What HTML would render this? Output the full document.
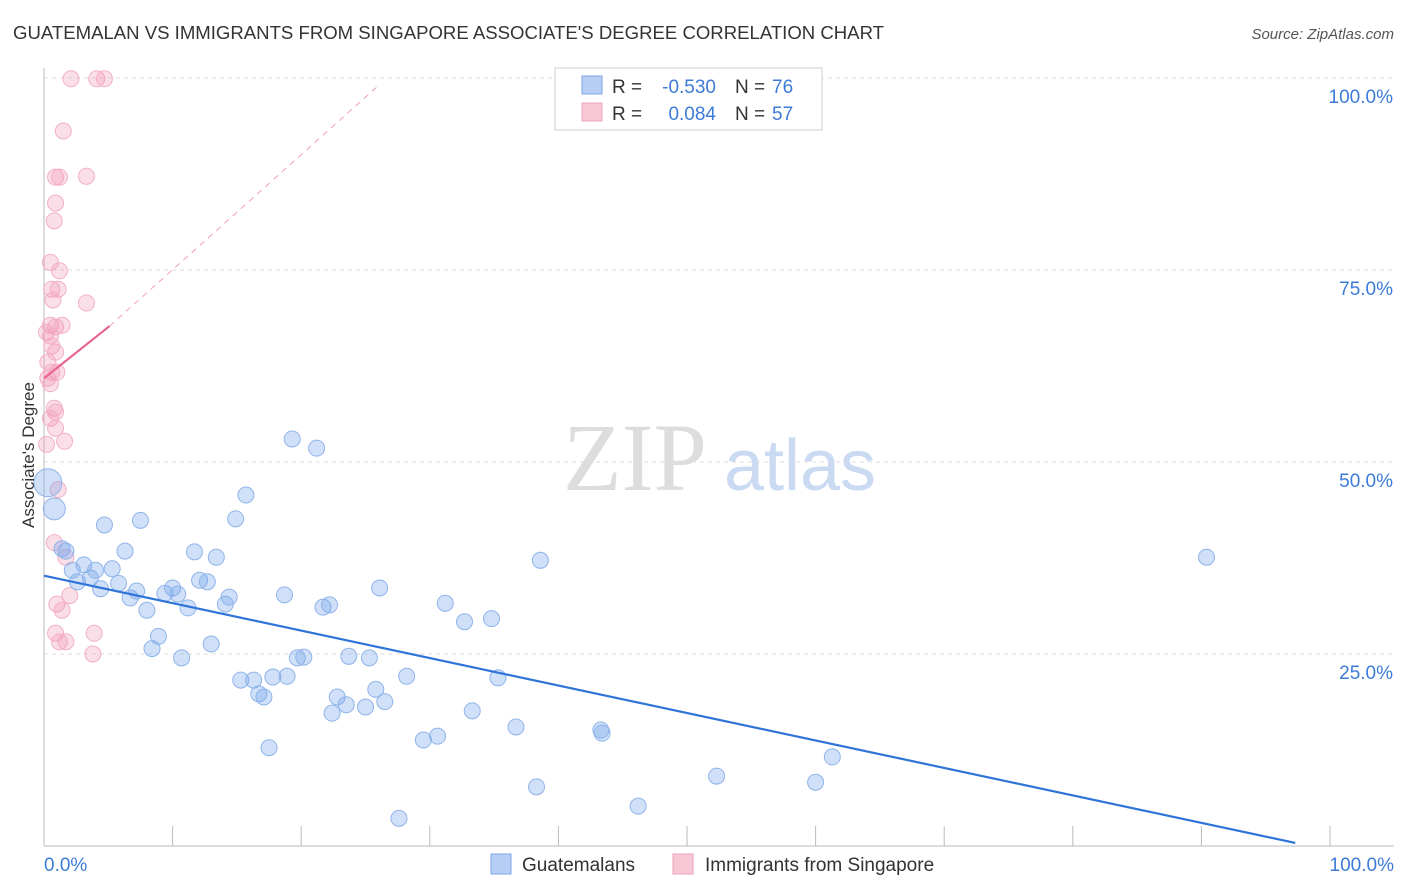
<!DOCTYPE html>
<html><head><meta charset="utf-8"><style>
body{margin:0;background:#fff;font-family:"Liberation Sans",sans-serif;}
svg{display:block}
</style></head><body>
<svg id="chart" width="1406" height="892">
<text x="13" y="39" font-size="18" fill="#333" textLength="871" lengthAdjust="spacingAndGlyphs">GUATEMALAN VS IMMIGRANTS FROM SINGAPORE ASSOCIATE'S DEGREE CORRELATION CHART</text>
<text x="1394" y="39" font-size="15" fill="#555" text-anchor="end" font-style="italic">Source: ZipAtlas.com</text>
<g>
<text x="635" y="490" font-size="96" fill="#ddd" font-family="Liberation Serif,serif" text-anchor="middle">ZIP</text>
<text x="800" y="490" font-size="72" fill="#c9daf2" text-anchor="middle">atlas</text>
</g>
<g id="grid"></g>
<g id="axes"></g>
<g id="marks"></g>
<text transform="translate(34,455) rotate(-90)" font-size="17" fill="#333" text-anchor="middle">Associate's Degree</text>
<g>
<rect x="555" y="68" width="267" height="62" fill="#fff" stroke="#ccc"/>
<rect x="582" y="76" width="20" height="18" fill="#b7cff4" stroke="#7aa6e6"/>
<rect x="582" y="103" width="20" height="18" fill="#f8c7d6" stroke="#f0a0b8"/>
<text x="612" y="93" font-size="19" fill="#333">R =</text>
<text x="716" y="93" font-size="19" fill="#3d7bd8" text-anchor="end">-0.530</text>
<text x="735" y="93" font-size="19" fill="#333">N =</text>
<text x="772" y="93" font-size="19" fill="#3d7bd8">76</text>
<text x="612" y="120" font-size="19" fill="#333">R =</text>
<text x="716" y="120" font-size="19" fill="#3d7bd8" text-anchor="end">0.084</text>
<text x="735" y="120" font-size="19" fill="#333">N =</text>
<text x="772" y="120" font-size="19" fill="#3d7bd8">57</text>
</g>
<g>
<rect x="491" y="854" width="20" height="20" fill="#b7cff4" stroke="#7aa6e6"/>
<text x="522" y="871" font-size="19" fill="#333">Guatemalans</text>
<rect x="673" y="854" width="20" height="20" fill="#f8c7d6" stroke="#f0a0b8"/>
<text x="705" y="871" font-size="19" fill="#333">Immigrants from Singapore</text>
</g>
</svg>
<script>
const blueX=[0.3,0.8,1.4,1.7,2.2,2.6,3.1,3.6,4.0,4.4,4.7,5.3,5.8,6.3,6.7,7.2,7.5,8.0,8.4,8.9,9.4,10.0,10.4,10.7,11.2,11.7,12.1,12.7,13.0,13.4,14.1,14.4,14.9,15.3,15.7,16.3,16.7,17.1,17.5,17.8,18.7,18.9,19.3,19.7,20.2,21.2,21.7,22.2,22.4,22.8,23.5,23.7,25.0,25.3,25.8,26.1,26.5,27.6,28.2,29.5,30.6,31.2,32.7,33.3,34.8,35.3,36.7,38.3,38.6,43.3,43.4,46.2,52.3,60.0,61.3,90.4];
const blueY=[47.3,43.9,38.7,38.4,35.9,34.4,36.6,34.9,35.9,33.5,41.8,36.1,34.2,38.4,32.3,33.2,42.4,30.7,25.7,27.3,32.9,33.6,32.8,24.5,31.0,38.3,34.6,34.4,26.3,37.6,31.5,32.4,42.6,21.6,45.7,21.6,19.8,19.4,12.8,22.0,32.7,22.1,53.0,24.5,24.6,51.8,31.1,31.4,17.3,19.4,18.4,24.7,18.1,24.5,20.4,33.6,18.8,3.6,22.1,13.8,14.3,31.6,29.2,17.6,29.6,21.9,15.5,7.7,37.2,15.1,14.7,5.2,9.1,8.3,11.6,37.6];
const pinkX=[2.1,4.1,4.7,1.5,0.9,1.2,3.3,0.9,0.8,0.5,1.2,0.6,1.1,0.7,3.3,0.5,0.9,1.4,0.2,0.5,0.6,0.9,0.3,0.6,1.0,0.3,0.5,0.8,0.9,0.5,0.9,1.6,0.2,1.1,0.8,1.7,1.0,2.0,1.4,0.9,3.9,1.2,1.7,3.8];
const pinkY=[99.9,99.9,99.9,93.1,87.1,87.1,87.2,83.7,81.4,76.0,74.9,72.5,72.5,71.1,70.7,67.8,67.6,67.8,66.9,66.4,65.1,64.3,63.0,61.7,61.7,60.9,60.2,57.0,56.5,55.7,54.4,52.7,52.3,46.4,39.5,37.6,31.5,32.6,30.7,27.7,27.7,26.6,26.6,25.0];
const blueTrend=[0,35.2,97.3,0.4];
const pinkTrend=[0,60.9,5.1,67.7,26,99];
const yTicks=[25,50,75,100];
const yTickLabels=["25.0%","50.0%","75.0%","100.0%"];
const xTicks=[0,10,20,30,40,50,60,70,80,90,100];
const NS="http://www.w3.org/2000/svg";
const sx=v=>44+v*12.86, sy=v=>846-v*7.68;
function mk(tag,attrs,parent){const e=document.createElementNS(NS,tag);for(const k in attrs)e.setAttribute(k,attrs[k]);document.getElementById(parent).appendChild(e);return e;}
yTicks.forEach((t,i)=>{
 const l=mk('line',{x1:44,x2:1394,y1:sy(t),y2:sy(t),stroke:'#ddd','stroke-dasharray':'4,4'},'grid');
 
 
 const tx=mk('text',{x:1393,y:sy(t)+25,'font-size':19,fill:'#3d7bd8','text-anchor':'end'},'axes');
 tx.textContent=yTickLabels[i];
 
 
});
const ya=mk('line',{x1:44,x2:44,y1:68,y2:846,stroke:'#bbb'},'axes');


const xa=mk('line',{x1:44,x2:1394,y1:846,y2:846,stroke:'#bbb'},'axes');


xTicks.forEach(t=>{
 const l=mk('line',{x1:sx(t),x2:sx(t),y1:826,y2:846,stroke:'#bbb'},'axes');
 
 
});
[[0,'0.0%','start',44],[100,'100.0%','end',1394]].forEach(a=>{
 const t=mk('text',{x:a[3],y:871,'font-size':19,fill:'#3d7bd8','text-anchor':a[2]},'axes');
 t.textContent=a[1];
 
 
});
pinkX.forEach((x,i)=>{
 const c=mk('circle',{cx:sx(x),cy:sy(pinkY[i]),r:8,fill:'rgba(242,150,180,0.3)',stroke:'#f3b0c4','stroke-width':1},'marks');
 
 
});
blueX.forEach((x,i)=>{
 const r=i==0?14:(i==1?11:8);
 const c=mk('circle',{cx:sx(x),cy:sy(blueY[i]),r:r,fill:'rgba(120,165,235,0.35)',stroke:'#8fb4ea','stroke-width':1},'marks');
 
 
});
const bl=mk('line',{x1:sx(blueTrend[0]),y1:sy(blueTrend[1]),x2:sx(blueTrend[2]),y2:sy(blueTrend[3]),stroke:'#2f74d8','stroke-width':2.2},'marks');


const pd=mk('line',{x1:sx(pinkTrend[2]),y1:sy(pinkTrend[3]),x2:sx(pinkTrend[4]),y2:sy(pinkTrend[5]),stroke:'#f0a0b8','stroke-width':1,'stroke-dasharray':'6,5'},'marks');


const pl=mk('line',{x1:sx(pinkTrend[0]),y1:sy(pinkTrend[1]),x2:sx(pinkTrend[2]),y2:sy(pinkTrend[3]),stroke:'#e9648f','stroke-width':2.2},'marks');


</script>
</body></html>
